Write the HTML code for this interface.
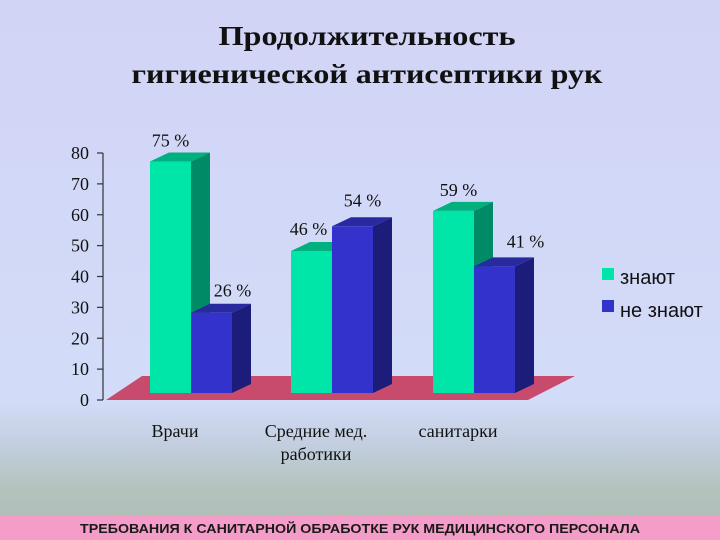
<!DOCTYPE html>
<html><head><meta charset="utf-8"><style>
html,body{margin:0;padding:0;width:720px;height:540px;overflow:hidden}
svg{display:block}
</style></head><body>
<svg id="chart" width="720" height="540" viewBox="0 0 720 540" xmlns="http://www.w3.org/2000/svg">
<defs>
<linearGradient id="bg" x1="0" y1="0" x2="0" y2="1">
<stop offset="0" stop-color="#d2d4f6"/>
<stop offset="0.78" stop-color="#d2dcf8"/>
<stop offset="0.86" stop-color="#c3cfe0"/>
<stop offset="0.95" stop-color="#b4c2bd"/>
<stop offset="1" stop-color="#b0bfb8"/>
</linearGradient>
</defs>
<rect x="0" y="0" width="720" height="515" fill="url(#bg)"/>
<g font-family="'Liberation Serif','Noto Serif CJK SC',serif" font-weight="bold" fill="#111" font-size="27" text-anchor="middle">
<text x="367" y="45" textLength="297" lengthAdjust="spacingAndGlyphs">Продолжительность</text>
<text x="367" y="83" textLength="471" lengthAdjust="spacingAndGlyphs">гигиенической антисептики рук</text>
</g>
<polygon points="106,400 528,400 575,376 142,376" fill="#c84b6e"/>
<g id="axis"></g>
<g id="bars"></g>
<g font-family="'Liberation Serif',serif" font-size="18" fill="#111" text-anchor="middle">
<text x="175" y="437">Врачи</text>
<text x="316" y="437">Средние мед.</text>
<text x="316" y="460">работики</text>
<text x="458" y="437">санитарки</text>
</g>
<g font-family="'Liberation Sans',sans-serif" font-size="20" fill="#111">
<rect x="602" y="268" width="12" height="12" fill="#00e5a8"/>
<text x="620" y="284">знают</text>
<rect x="602" y="300" width="12" height="12" fill="#3333cc"/>
<text x="620" y="317">не знают</text>
</g>
<rect x="0" y="515" width="720" height="25" fill="#f59dc9"/>
<text x="360" y="533" text-anchor="middle" font-family="'Liberation Sans',sans-serif" font-weight="bold" font-size="12.5" fill="#1a1a1a" textLength="560" lengthAdjust="spacingAndGlyphs">ТРЕБОВАНИЯ К САНИТАРНОЙ ОБРАБОТКЕ РУК МЕДИЦИНСКОГО ПЕРСОНАЛА</text>
</svg>
<script>
const categories = ["Врачи", "Средние мед. работики", "санитарки"];
const knowValues = [75, 46, 59];
const dontKnowValues = [26, 54, 41];
const tickValues = [0, 10, 20, 30, 40, 50, 60, 70, 80];

const NS = "http://www.w3.org/2000/svg";
const axisY0 = 400, axisPx = 247 / 80;
const barBase = 393;
function yAxis(v){ return axisY0 - v * axisPx; }
function yBar(v){ return barBase - v * axisPx; }
const groupX = [150, 291, 433];
const bw = 41, dx = 19, dy = 9;
// label placement offsets (styling only)
const knowLabelShift = [[0, 15], [-3, 16], [5, 15]];
const dontLabelShift = [[21, 16], [10, 20], [31, 19]];

const axis = document.getElementById('axis');
function mk(tag, attrs, parent){ const e = document.createElementNS(NS, tag); for (const k in attrs) e.setAttribute(k, attrs[k]); parent.appendChild(e); return e; }
const al = mk('line', {x1:103, y1:yAxis(80), x2:103, y2:yAxis(0), stroke:'#333', 'stroke-width':1.2}, axis);


tickValues.forEach(t => {
  const tk = mk('line', {x1:97, y1:yAxis(t), x2:103, y2:yAxis(t), stroke:'#333', 'stroke-width':1.2}, axis);
  
  
  const tx = mk('text', {x:89, y:yAxis(t) + 6, 'text-anchor':'end', 'font-family':"'Liberation Serif',serif", 'font-size':18, fill:'#111'}, axis);
  tx.textContent = t;
  
  
});

const bars = document.getElementById('bars');
function bar3d(x, v, front, side, top, name, shift){
  const g = mk('g', {}, bars);
  
  
  const yt = yBar(v);
  mk('polygon', {points:`${x+bw},${barBase} ${x+bw+dx},${barBase-dy} ${x+bw+dx},${yt-dy} ${x+bw},${yt}`, fill:side}, g);
  mk('polygon', {points:`${x},${yt} ${x+dx},${yt-dy} ${x+bw+dx},${yt-dy} ${x+bw},${yt}`, fill:top}, g);
  mk('rect', {x:x, y:yt, width:bw, height:barBase-yt, fill:front}, g);
  const lb = mk('text', {x:x + bw/2 + shift[0], y:yt - shift[1], 'text-anchor':'middle', 'font-family':"'Liberation Serif',serif", 'font-size':18, fill:'#111'}, g);
  lb.textContent = v + ' %';
  
  
}
categories.forEach((c, i) => {
  bar3d(groupX[i], knowValues[i], '#00e5a8', '#008a66', '#00b07e', 'bar-know-' + i, knowLabelShift[i]);
  bar3d(groupX[i] + bw, dontKnowValues[i], '#3333cc', '#1c1c7a', '#2a2aa0', 'bar-dont-know-' + i, dontLabelShift[i]);
});
</script>
</body></html>
